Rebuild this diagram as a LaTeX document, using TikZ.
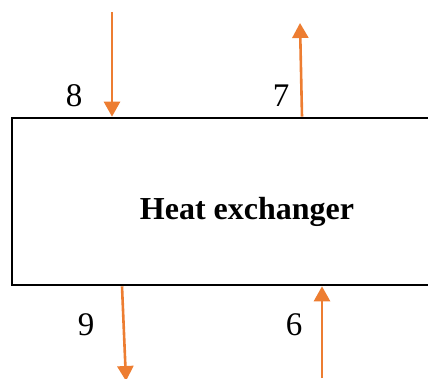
\documentclass[tikz,border=0pt]{standalone}
\usepackage{fontspec}
\setmainfont{Liberation Serif}
\usetikzlibrary{arrows.meta,positioning}
\definecolor{hxInk}{HTML}{000000}
\definecolor{hxOrange}{HTML}{ED7D31}
\tikzset{
  every picture/.style={text=hxInk},
  hx box/.style={draw=hxInk, line width=2.6pt, fill=white,
    minimum width=433pt, minimum height=167pt, inner sep=0pt},
  hx title/.style={font=\fontsize{32}{38}\selectfont\bfseries},
  hx num/.style={font=\fontsize{33}{40}\selectfont},
  hx flow/.style={-{Triangle[length=15pt,width=16pt]},
    draw=hxOrange, line width=2.6pt}
}
\begin{document}
\begin{tikzpicture}[x=1pt,y=1pt]
  \useasboundingbox (0,0) rectangle (428,378);
  \node[hx box] (hx) at (228.5,176.5) {};
  \node[hx title] (hxname) at (247,166) {Heat exchanger};
  % stream ends
  \coordinate (s8) at (112,366);
  \coordinate (s7) at (300,355);
  \coordinate (s7foot) at (302,0);
  \coordinate (s9foot) at (122,0);
  \coordinate (s9) at (126,-3);
  \coordinate (s6) at (322,0);
  \draw[hx flow] (s8) -- (s8 |- hx.north);
  \draw[hx flow] (s7foot |- hx.north) -- (s7);
  \draw[hx flow] (s9foot |- hx.south) -- (s9);
  \draw[hx flow] (s6) -- (s6 |- hx.south);
  \node[hx num] (n8) at (74,282) {8};
  \node[hx num] (n7) at (281,282) {7};
  \node[hx num] (n9) at (86,53) {9};
  \node[hx num] (n6) at (294,53) {6};
\end{tikzpicture}
\end{document}
